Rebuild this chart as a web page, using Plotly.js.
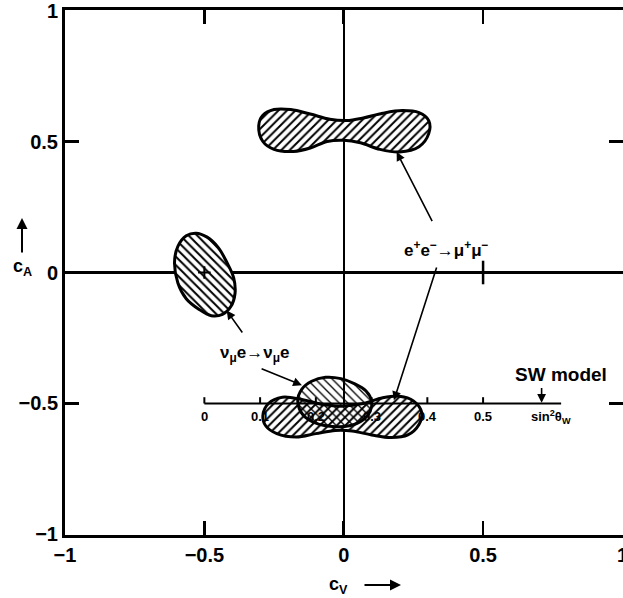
<!DOCTYPE html>
<html>
<head>
<meta charset="utf-8">
<script src="https://cdn.plot.ly/plotly-3.0.1.min.js"></script>
<style>
  html, body { margin: 0; padding: 0; background: #fff; }
  #chart { width: 623px; height: 598px; }
</style>
</head>
<body>
<div id="chart"></div>
<script>
// allowed regions in the (c_V, c_A) plane

// e+e- -> mu+mu-, upper solution
var eeUpperCv = [-0.305, -0.29, -0.25, -0.19, -0.12, -0.05, 0.01, 0.07, 0.14, 0.21, 0.27, 0.305,
                 0.305, 0.27, 0.20, 0.13, 0.06, 0.0, -0.06, -0.12, -0.18, -0.25, -0.29, -0.305];
var eeUpperCa = [0.56, 0.60, 0.622, 0.622, 0.605, 0.585, 0.58, 0.59, 0.608, 0.618, 0.61, 0.58,
                 0.53, 0.48, 0.46, 0.47, 0.495, 0.505, 0.50, 0.475, 0.462, 0.47, 0.50, 0.56];

// e+e- -> mu+mu-, lower solution
var eeLowerCv = [-0.29, -0.27, -0.22, -0.15, -0.07, 0.0, 0.07, 0.14, 0.20, 0.25, 0.28,
                 0.27, 0.23, 0.17, 0.10, 0.03, -0.03, -0.10, -0.17, -0.24, -0.28, -0.29];
var eeLowerCa = [-0.545, -0.50, -0.476, -0.485, -0.505, -0.51, -0.50, -0.478, -0.472, -0.49, -0.535,
                 -0.58, -0.62, -0.63, -0.62, -0.605, -0.603, -0.615, -0.628, -0.615, -0.585, -0.545];

// nu_mu e -> nu_mu e, solution near the SW line
var nueCv = [-0.165, -0.15, -0.115, -0.065, -0.01, 0.04, 0.08, 0.10, 0.095, 0.07, 0.02, -0.04, -0.10, -0.145, -0.165];
var nueCa = [-0.49, -0.445, -0.415, -0.40, -0.405, -0.425, -0.452, -0.49, -0.53, -0.562, -0.585, -0.588, -0.575, -0.545, -0.49];

// nu_mu e -> nu_mu e, second solution
var ellCv = [-0.607, -0.595, -0.565, -0.53, -0.49, -0.45, -0.42, -0.395, -0.39, -0.405, -0.435, -0.475, -0.52, -0.565, -0.595, -0.607];
var ellCa = [0.04, 0.10, 0.14, 0.15, 0.135, 0.095, 0.04, -0.02, -0.08, -0.13, -0.16, -0.165, -0.14, -0.10, -0.04, 0.04];
var ellCentreCv = [-0.5];
var ellCentreCa = [0];

// SW model line, c_A = -1/2
var swLineCv = [-0.5, 0.78];
var swLineCa = [-0.5, -0.5];
var swTickCv = [-0.5, -0.3, -0.1, 0.1, 0.3, 0.5];
var swTickCa = [-0.5, -0.5, -0.5, -0.5, -0.5, -0.5];
var swTickLabels = ["0", "0.1", "0.2", "0.3", "0.4", "0.5"];

var axisTicks = [-1, -0.5, 0, 0.5, 1];
var axisTickText = ["\u22121", "\u22120.5", "0", "0.5", "1"];

var font = "Liberation Sans, Arial, sans-serif";

function blob(x, y, shape, solidity, bg) {
  return {
    x: x, y: y, type: "scatter", mode: "lines", fill: "toself",
    line: { color: "black", width: 3, shape: "spline", smoothing: 1 },
    fillcolor: "rgba(0,0,0,0)",
    fillpattern: { shape: shape, fgcolor: "black", bgcolor: bg, size: 6, solidity: solidity },
    hoverinfo: "skip", showlegend: false
  };
}

var data = [
  blob(eeUpperCv, eeUpperCa, "/", 0.33, "white"),
  blob(eeLowerCv, eeLowerCa, "/", 0.33, "white"),
  blob(nueCv, nueCa, "\\", 0.22, "rgba(0,0,0,0)"),
  blob(ellCv, ellCa, "\\", 0.33, "white"),
  {
    x: ellCentreCv, y: ellCentreCa, type: "scatter", mode: "markers",
    marker: { symbol: "cross-thin", size: 9, line: { color: "black", width: 2 } },
    showlegend: false
  },
  {
    x: swLineCv, y: swLineCa, type: "scatter", mode: "lines",
    line: { color: "black", width: 2 }, showlegend: false
  },
  {
    x: swTickCv, y: swTickCa, type: "scatter", mode: "markers",
    marker: { size: 2, color: "rgba(0,0,0,0)" },
    error_y: { type: "constant", symmetric: false, value: 0.024, valueminus: 0,
               width: 0, thickness: 2, color: "black" },
    showlegend: false
  }
];

var axisBase = {
  range: [-1.002, 1.002], tickvals: axisTicks, ticktext: axisTickText,
  ticks: "inside", ticklen: 14, tickwidth: 2.5, tickcolor: "black",
  showline: true, linewidth: 3, linecolor: "black", mirror: "ticks",
  showgrid: false, zeroline: true, zerolinewidth: 2.2, zerolinecolor: "black",
  tickfont: { family: font, size: 20, color: "black", weight: "bold" },
  ticklabeloverflow: "allow",
  layer: "above traces", fixedrange: true
};

var xaxis = Object.assign({}, axisBase, { range: [-1, 1.002] });
var yaxis = Object.assign({}, axisBase);

var annFont = { family: font, size: 17, color: "black", weight: "bold" };
var smallFont = { family: font, size: 13, color: "black", weight: "bold" };

function arrow(hx, hy, tx, ty) {
  return {
    x: hx, y: hy, ax: tx, ay: ty, xref: "x", yref: "y", axref: "x", ayref: "y",
    text: "", showarrow: true, arrowhead: 2, arrowsize: 1.1, arrowwidth: 1.6, arrowcolor: "black"
  };
}

// tick labels along the SW line, just under it
var swLabelAnns = swTickCv.map(function (cv, i) {
  return { x: cv, y: swTickCa[i], xref: "x", yref: "y", yanchor: "top", yshift: -4,
           showarrow: false, text: swTickLabels[i], font: smallFont };
});

var layout = {
  width: 623, height: 598,
  margin: { l: 65, r: 0, t: 10, b: 63 },
  paper_bgcolor: "white", plot_bgcolor: "white",
  xaxis: xaxis, yaxis: yaxis,
  showlegend: false,
  shapes: [
    { type: "line", xref: "x", yref: "y", x0: 0.5, x1: 0.5, y0: -0.045, y1: 0.045,
      line: { color: "black", width: 2.5 } }
  ],
  annotations: swLabelAnns.concat([
    { x: 0.37, y: 0.09, xref: "x", yref: "y", showarrow: false,
      text: "e<sup>+</sup>e<sup>\u2212</sup>\u2192\u03bc<sup>+</sup>\u03bc<sup>\u2212</sup>", font: annFont },
    { x: -0.32, y: -0.31, xref: "x", yref: "y", showarrow: false,
      text: "\u03bd<sub>\u03bc</sub>e\u2192\u03bd<sub>\u03bc</sub>e", font: annFont },
    { x: 0.78, y: -0.39, xref: "x", yref: "y", showarrow: false,
      text: "SW model", font: { family: font, size: 19, color: "black", weight: "bold" } },
    { x: 0.745, y: -0.5, xref: "x", yref: "y", yanchor: "top", yshift: -3, showarrow: false,
      text: "sin<sup>2</sup>\u03b8<sub>W</sub>", font: smallFont },
    arrow(0.19, 0.46, 0.32, 0.19),
    arrow(0.18, -0.488, 0.335, 0.025),
    arrow(-0.42, -0.145, -0.36, -0.235),
    arrow(-0.15, -0.43, -0.30, -0.365),
    arrow(0.71, -0.497, 0.71, -0.435),
    // axis titles
    { x: 0, y: 0, xref: "paper", yref: "paper", xanchor: "center", yanchor: "middle",
      xshift: -43, yshift: 525 - 257, showarrow: false,
      text: "c<sub>A</sub>", font: { family: font, size: 18, color: "black", weight: "bold" } },
    { x: 0, y: 0, xref: "paper", yref: "paper", xshift: -43, yshift: 525 - 208,
      showarrow: true, ax: 0, ay: 36, text: "", arrowhead: 2, arrowsize: 1.1, arrowwidth: 2, arrowcolor: "black" },
    { x: 0.5, y: 0, xref: "paper", yref: "paper", xanchor: "center", yanchor: "middle",
      xshift: -6, yshift: -50, showarrow: false,
      text: "c<sub>V</sub>", font: { family: font, size: 18, color: "black", weight: "bold" } },
    { x: 0.5, y: 0, xref: "paper", yref: "paper", xshift: 57, yshift: -50,
      showarrow: true, ax: -38, ay: 0, text: "", arrowhead: 2, arrowsize: 1.1, arrowwidth: 2, arrowcolor: "black" }
  ])
};

Plotly.newPlot("chart", data, layout, { displayModeBar: false, staticPlot: true });
</script>
</body>
</html>
